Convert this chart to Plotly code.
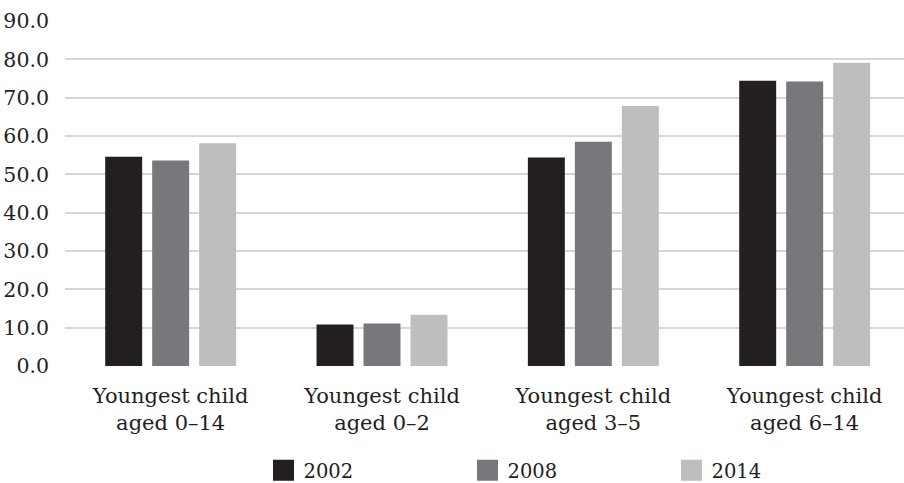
import plotly.graph_objects as go

categories = ["Youngest child<br>aged 0–14", "Youngest child<br>aged 0–2",
              "Youngest child<br>aged 3–5", "Youngest child<br>aged 6–14"]
years = ["2002", "2008", "2014"]
v2002 = [54.6, 10.8, 54.4, 74.4]
v2008 = [53.6, 11.1, 58.5, 74.2]
v2014 = [58.1, 13.4, 67.8, 79.1]
colors = ["#231f20", "#77787b", "#bcbec0"]
y_ticks = [0, 10, 20, 30, 40, 50, 60, 70, 80, 90]
y_ticktext = [f"{t:.1f}" for t in y_ticks]

FONT = "DejaVu Serif"
fig = go.Figure()
for name, vals, c in zip(years, [v2002, v2008, v2014], colors):
    fig.add_trace(go.Bar(x=categories, y=vals, name=name, marker_color=c,
                         marker_line_width=0, showlegend=False))
    fig.add_trace(go.Scatter(x=[None], y=[None], mode="markers", name=name,
                             marker=dict(symbol="square", size=16, color=c,
                                         line=dict(color=c, width=5)),
                             showlegend=True))

fig.update_layout(
    width=904, height=483,
    margin=dict(l=65, r=0, t=21, b=117),
    paper_bgcolor="white", plot_bgcolor="white",
    barmode="group", bargap=0.333, bargroupgap=0.213,
    font=dict(family=FONT, color="#231f20"),
    showlegend=True,
    legend=dict(orientation="h", xref="container", yref="container",
                x=0.2915, y=0.066, xanchor="left", yanchor="top",
                font=dict(size=19.5, family=FONT, color="#231f20"),
                entrywidth=159, entrywidthmode="pixels",
                itemsizing="trace", tracegroupgap=0),
    xaxis=dict(range=[-0.5, 3.47], showgrid=False, showline=False, ticks="",
               ticklabelstandoff=15,
               tickfont=dict(size=21, family=FONT, color="#231f20"),
               zeroline=False),
    yaxis=dict(range=[0, 90], tickvals=y_ticks, ticktext=y_ticktext,
               showgrid=True, gridcolor="#d6d6d6", gridwidth=2,
               zeroline=False, showline=False, ticks="",
               ticklabelstandoff=15,
               tickfont=dict(size=20.5, family=FONT, color="#231f20")),
)
fig.write_html("out.html")
